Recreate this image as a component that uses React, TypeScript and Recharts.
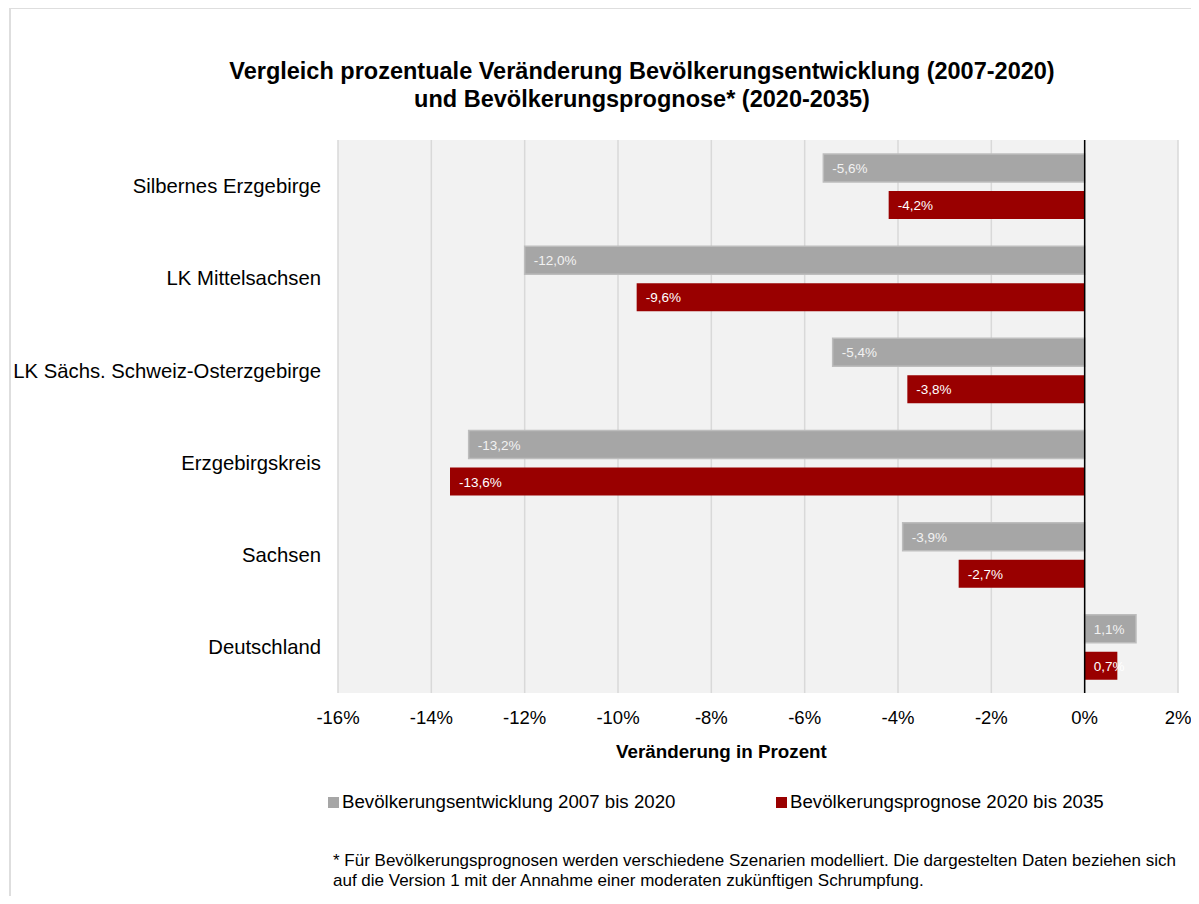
import { BarChart, Bar, XAxis, YAxis, CartesianGrid, ReferenceLine, LabelList } from 'recharts';

const regions = [
  'Silbernes Erzgebirge',
  'LK Mittelsachsen',
  'LK Sächs. Schweiz-Osterzgebirge',
  'Erzgebirgskreis',
  'Sachsen',
  'Deutschland',
];
const entwicklung = [-5.6, -12.0, -5.4, -13.2, -3.9, 1.1];
const prognose = [-4.2, -9.6, -3.8, -13.6, -2.7, 0.7];
const xTicks = [-16, -14, -12, -10, -8, -6, -4, -2, 0, 2];

const seriesNames = ['Bevölkerungsentwicklung 2007 bis 2020', 'Bevölkerungsprognose 2020 bis 2035'];
const GRAY = '#a6a6a6';
const RED = '#990000';

const data = regions.map((name, i) => ({ name, entw: entwicklung[i], prog: prognose[i] }));

const FONT = '"Liberation Sans", Arial, sans-serif';

function fmt(v: number): string {
  return `${v.toFixed(1).replace('.', ',')}%`;
}

function makeLabel(color: string) {
  return (props: any) => {
    const { x, y, width, height, value } = props;
    const left = Math.min(x, x + width);
    return (
      <text
        x={left + 9}
        y={y + height / 2}
        dy={5}
        fill={color}
        fontSize={13.5}
        fontFamily={FONT}
      >
        {fmt(value)}
      </text>
    );
  };
}

export default function App() {
  return (
    <div style={{ position: 'relative', width: 1199, height: 904, margin: -8, background: '#fff', fontFamily: FONT, overflow: 'hidden' }}>
      <div style={{ position: 'absolute', left: 9, top: 7, right: -2, bottom: -2, borderTop: '2px solid #dedede', borderLeft: '2px solid #dedede' }} />
      <div style={{ position: 'absolute', left: 0, width: 1284, top: 57, textAlign: 'center', fontWeight: 'bold', fontSize: 23.5, lineHeight: '28px', color: '#000' }}>
        Vergleich prozentuale Veränderung Bevölkerungsentwicklung (2007-2020)
        <br />
        und Bevölkerungsprognose* (2020-2035)
      </div>
      <div style={{ position: 'absolute', top: 0, left: 0 }}>
        <BarChart
          width={1199}
          height={904}
          data={data}
          layout="vertical"
          margin={{ top: 140, right: 21, bottom: 181, left: 0 }}
          barSize={28}
          barGap={9}
          barCategoryGap={13}
        >
          <CartesianGrid fill="#f2f2f2" horizontal={false} stroke="#d9d9d9" strokeWidth={1.5} />
          <XAxis
            type="number"
            domain={[-16, 2]}
            ticks={xTicks}
            tickFormatter={(v: number) => `${v}%`}
            axisLine={false}
            tickLine={false}
            tick={{ fontSize: 18.5, fill: '#000', fontFamily: FONT }}
            tickMargin={12}
            height={30}
            allowDataOverflow
          />
          <YAxis
            type="category"
            dataKey="name"
            axisLine={false}
            tickLine={false}
            width={338}
            tick={{ fontSize: 20.3, fill: '#000', fontFamily: FONT }}
            tickMargin={11}
          />
          <Bar dataKey="entw" fill={GRAY} stroke="#bdbdbd" strokeWidth={1.5} isAnimationActive={false}>
            <LabelList dataKey="entw" content={makeLabel('#f2f2f2')} />
          </Bar>
          <Bar dataKey="prog" fill={RED} isAnimationActive={false}>
            <LabelList dataKey="prog" content={makeLabel('#ffffff')} />
          </Bar>
          <ReferenceLine x={0} stroke="#000" strokeWidth={1.5} />
        </BarChart>
      </div>
      <div style={{ position: 'absolute', left: 616, top: 741, fontWeight: 'bold', fontSize: 18.8, color: '#000' }}>
        Veränderung in Prozent
      </div>
      <div style={{ position: 'absolute', left: 328, top: 791, fontSize: 18.7, color: '#000', display: 'flex', alignItems: 'center' }}>
        <span style={{ display: 'inline-block', width: 11, height: 11, background: GRAY, marginRight: 3 }} />
        {seriesNames[0]}
      </div>
      <div style={{ position: 'absolute', left: 776, top: 791, fontSize: 18.7, color: '#000', display: 'flex', alignItems: 'center' }}>
        <span style={{ display: 'inline-block', width: 11, height: 11, background: RED, marginRight: 3 }} />
        {seriesNames[1]}
      </div>
      <div style={{ position: 'absolute', left: 333, top: 851, fontSize: 17, lineHeight: '20px', color: '#000', whiteSpace: 'nowrap' }}>
        * Für Bevölkerungsprognosen werden verschiedene Szenarien modelliert. Die dargestelten Daten beziehen sich
        <br />
        auf die Version 1 mit der Annahme einer moderaten zukünftigen Schrumpfung.
      </div>
    </div>
  );
}
